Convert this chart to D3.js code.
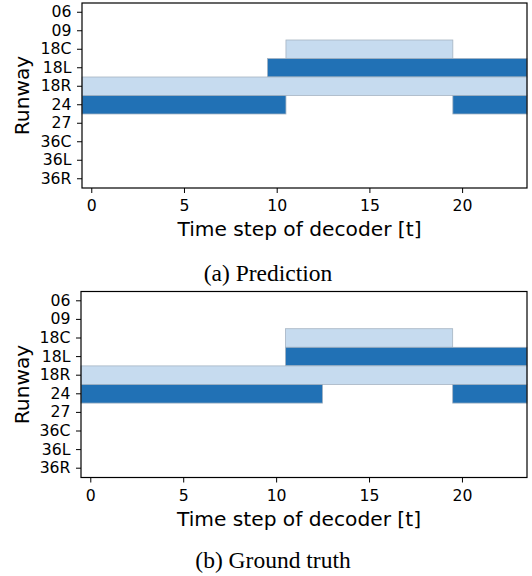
<!DOCTYPE html>
<html>
<head>
<meta charset="utf-8">
<script src="https://cdn.jsdelivr.net/npm/d3@7"></script>
<style>
  body { margin: 0; background: #fff; }
  svg text { font-family: "DejaVu Sans", sans-serif; fill: #000; }
  .caption { font-family: "Liberation Serif", "Times New Roman", serif !important; }
</style>
</head>
<body>
<div id="chart"></div>
<script>
// Data
const runways = ['06', '09', '18C', '18L', '18R', '24', '27', '36C', '36L', '36R'];
const timeSteps = d3.range(24);
const xTicks = [0, 5, 10, 15, 20];

// bars: [runway, first step, last step, shade]
const predictionBars = [
    ['18C', 11, 19, 'light'],
    ['18L', 10, 23, 'dark'],
    ['18R', 0, 23, 'light'],
    ['24', 0, 10, 'dark'],
    ['24', 20, 23, 'dark']
];
const truthBars = [
    ['18C', 11, 19, 'light'],
    ['18L', 11, 23, 'dark'],
    ['18R', 0, 23, 'light'],
    ['24', 0, 12, 'dark'],
    ['24', 20, 23, 'dark']
];

const shades = { light: '#c6dbef', dark: '#2171b5' };

const svg = d3.select('#chart')
    .append('svg')
    .attr('width', 532)
    .attr('height', 576);

function drawPanel(bars, box, caption) {
    const x = d3.scaleLinear()
        .domain([timeSteps[0] - 0.5, timeSteps[timeSteps.length - 1] + 0.5])
        .range([box.left, box.right]);
    const y = d3.scaleBand()
        .domain(runways)
        .range([box.top, box.bottom]);

    const g = svg.append('g');

    g.selectAll('rect.bar')
        .data(bars)
        .join('rect')
        .attr('class', 'bar')
        .attr('x', d => x(d[1] - 0.5))
        .attr('width', d => x(d[2] + 0.5) - x(d[1] - 0.5))
        .attr('y', d => y(d[0]))
        .attr('height', y.bandwidth())
        .attr('fill', d => shades[d[3]])
        .attr('stroke', '#a6b4c2')
        .attr('stroke-width', 0.8);

    // frame
    g.append('rect')
        .attr('x', box.left)
        .attr('y', box.top)
        .attr('width', box.right - box.left)
        .attr('height', box.bottom - box.top)
        .attr('fill', 'none')
        .attr('stroke', '#000')
        .attr('stroke-width', 1.2);

    const xAxis = g.append('g')
        .attr('transform', `translate(0,${box.bottom})`)
        .call(d3.axisBottom(x).tickValues(xTicks).tickSize(5).tickPadding(7));
    xAxis.select('.domain').remove();

    const yAxis = g.append('g')
        .attr('transform', `translate(${box.left},0)`)
        .call(d3.axisLeft(y).tickSize(5).tickPadding(5.5));
    yAxis.select('.domain').remove();

    g.selectAll('.tick text').attr('font-size', 15.7).attr('fill', '#000');
    g.selectAll('.tick line').attr('stroke', '#000').attr('stroke-width', 1);

    g.append('text')
        .attr('x', (box.left + box.right) / 2 - 5)
        .attr('y', box.bottom + 48)
        .attr('text-anchor', 'middle')
        .attr('font-size', 20.2)
        .text('Time step of decoder [t]');

    g.append('text')
        .attr('transform', `translate(29,${(box.top + box.bottom) / 2}) rotate(-90)`)
        .attr('text-anchor', 'middle')
        .attr('font-size', 20.2)
        .text('Runway');

    g.append('text')
        .attr('class', 'caption')
        .attr('x', caption.x)
        .attr('y', caption.y)
        .attr('text-anchor', 'middle')
        .attr('font-size', 23.5)
        .text(caption.text);
}

drawPanel(predictionBars, { left: 82, right: 527, top: 3, bottom: 188 },
    { text: '(a) Prediction', x: 268, y: 280.5 });
drawPanel(truthBars, { left: 81, right: 527, top: 291.5, bottom: 477.5 },
    { text: '(b) Ground truth', x: 273, y: 568 });
</script>
</body>
</html>
